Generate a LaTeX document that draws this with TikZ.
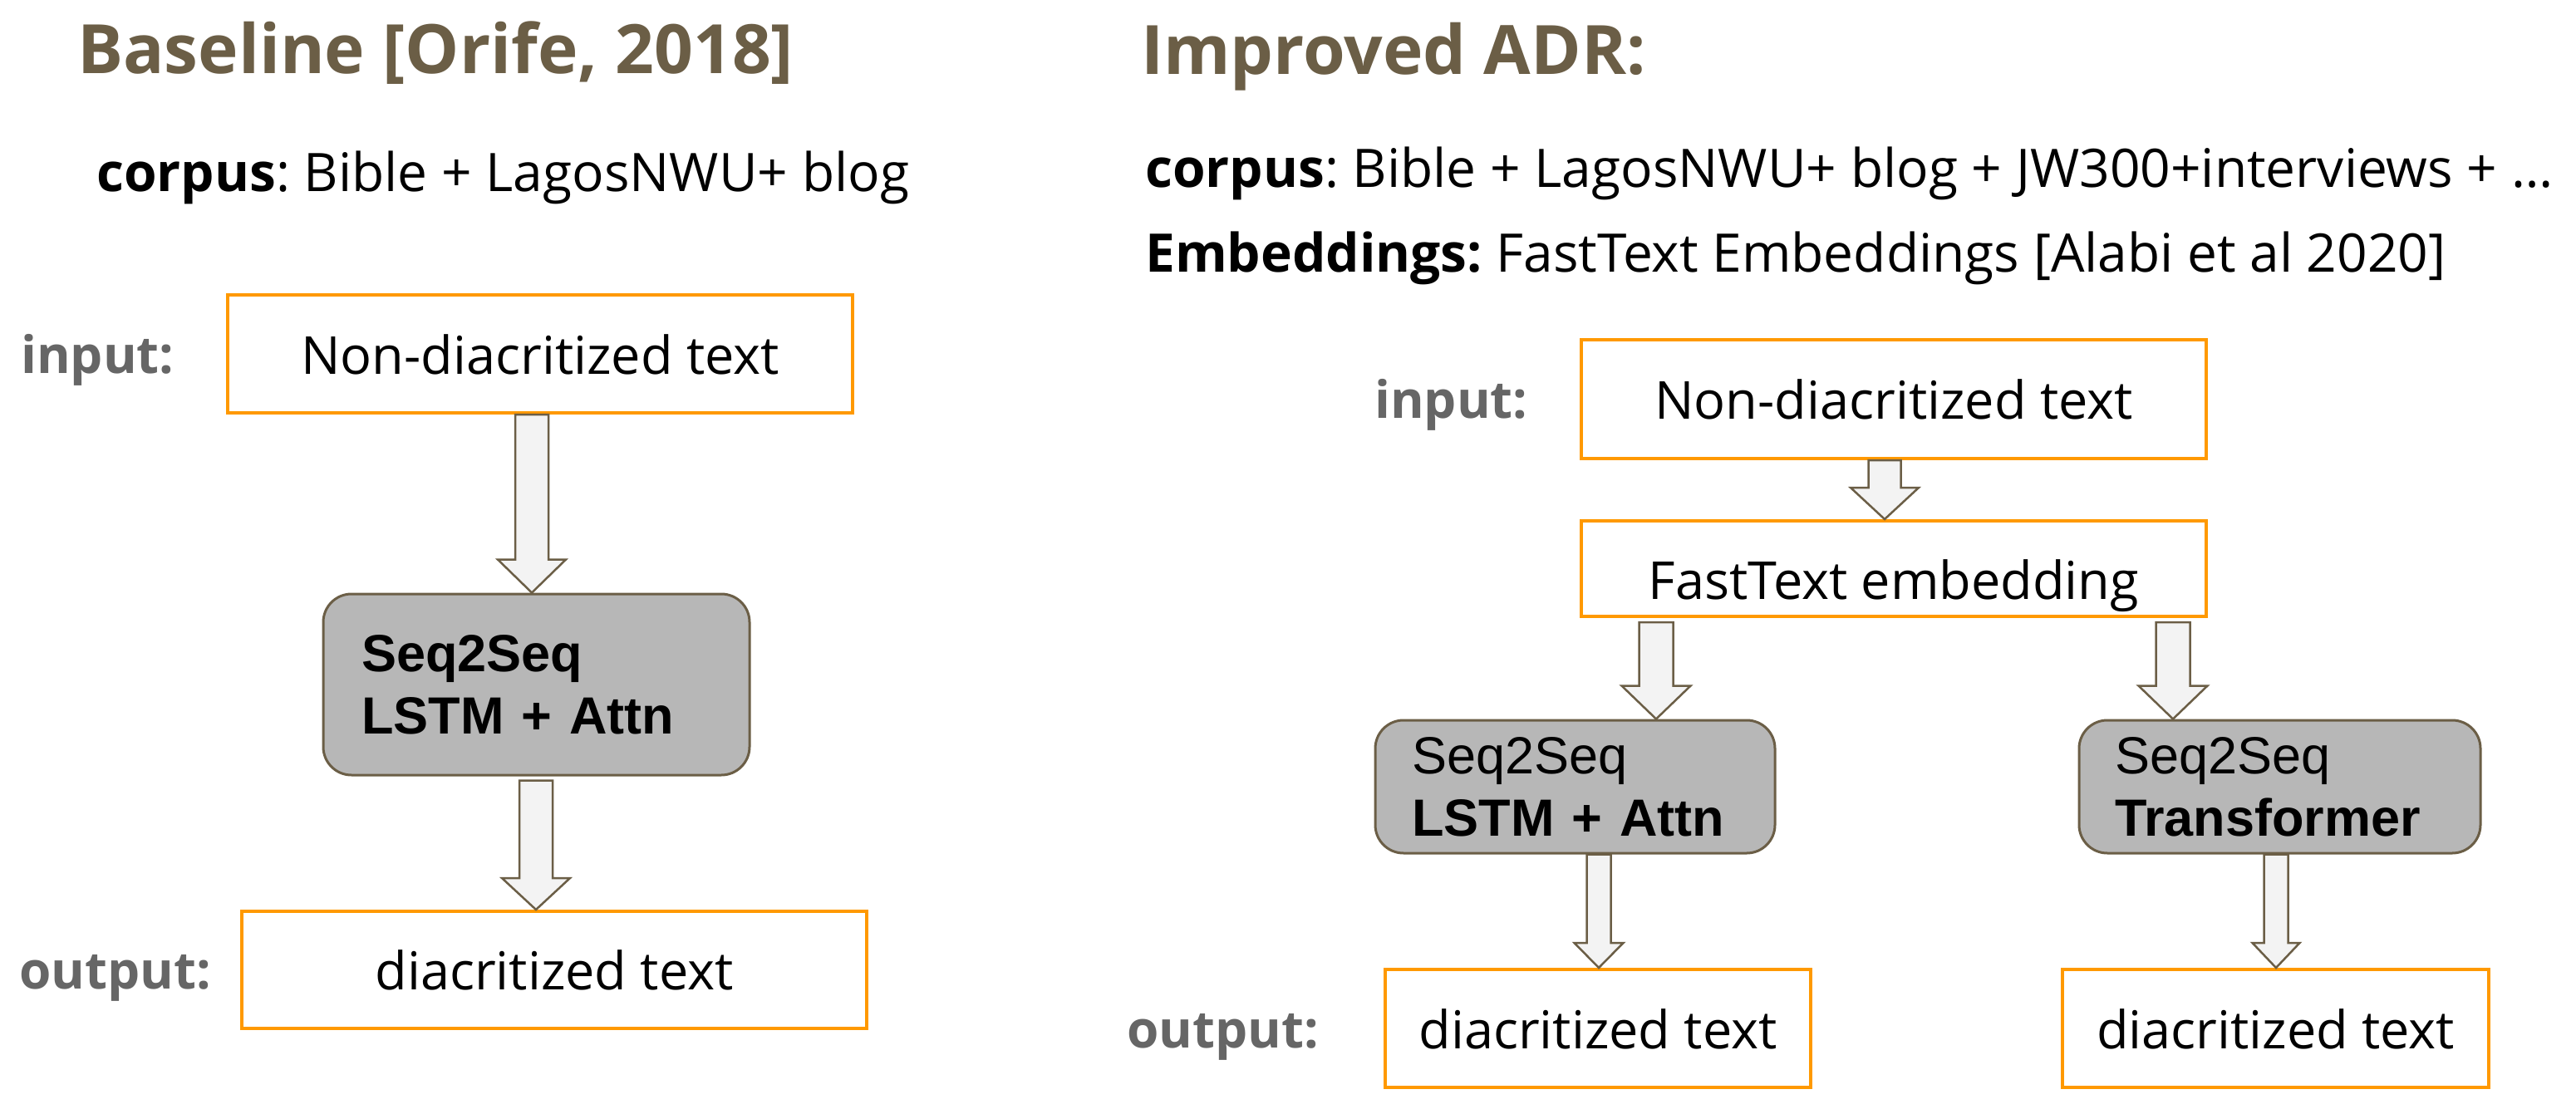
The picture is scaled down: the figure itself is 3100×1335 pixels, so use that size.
\documentclass[tikz,border=0pt]{standalone}
\usepackage{fontspec}
\setmainfont{Open Sans}
\newfontfamily\arialf{Liberation Sans}
\usetikzlibrary{calc}
\frenchspacing
\definecolor{titlec}{HTML}{6B5E46}
\definecolor{labc}{HTML}{666666}
\definecolor{orangec}{HTML}{FF9900}
\definecolor{seqfill}{HTML}{B7B7B7}
\definecolor{seqdraw}{HTML}{6B5E46}
\definecolor{arrfill}{HTML}{F3F3F3}
\tikzset{
 titletext/.style={anchor=base west, inner sep=0pt, text=titlec, font=\fontsize{82}{98}\selectfont\bfseries},
 infotext/.style={anchor=base west, inner sep=0pt, font=\fontsize{64}{77}\selectfont},
 labtext/.style={anchor=base west, inner sep=0pt, text=labc, font=\fontsize{62}{74}\selectfont\bfseries},
 iobox/.style={draw=orangec, line width=4pt, fill=white, inner sep=0pt, text height=48pt, text depth=0pt, font=\fontsize{63}{75}\selectfont},
 seqbox/.style={draw=seqdraw, line width=3pt, fill=seqfill, rounded corners=34pt, align=left, inner ysep=0pt, font=\arialf\fontsize{63}{75}\selectfont},
 barrow/.style={draw=seqdraw, line width=2.5pt, fill=arrfill, line join=miter},
}
\newcommand\blockarr[7]{%
 \coordinate (bx) at (#1,0);
 \draw[barrow] ($(bx |- #2.south)+(-#4,#7)$) -- ($(bx |- #2.south)+(#4,#7)$) -- ($(bx |- #3.north)+(#4,-#6)$) -- ($(bx |- #3.north)+(#5,-#6)$) -- (bx |- #3.north) -- ($(bx |- #3.north)+(-#5,-#6)$) -- ($(bx |- #3.north)+(-#4,-#6)$) -- cycle;
}
\begin{document}
\begin{tikzpicture}[x=1pt,y=-1pt]
\fill[white] (0,0) rectangle (3100,1335);
\useasboundingbox (0,0) rectangle (3100,1335);

% ---------- left panel ----------
\node[titletext] (titleL) at (93,89) {Baseline [Orife, 2018]};
\node[infotext] (corpusL) at (116,230) {\textbf{corpus}: Bible + LagosNWU+ blog};
\node[labtext] (inlabL) at (25,449) {input:};
\node[labtext] (outlabL) at (23,1190) {output:};

\node[iobox, minimum width=752pt, minimum height=142pt] (inL) at (650,426) {Non-diacritized text};
\node[seqbox, minimum width=513pt, minimum height=218pt, text width=421pt, inner xsep=46pt] (seqL) at (645.5,824) {\bfseries Seq2Seq\\LSTM + Attn};
\node[iobox, minimum width=752pt, minimum height=141pt] (outL) at (667,1167.5) {diacritized text};

\blockarr{640}{inL}{seqL}{20}{41}{40}{0}
\blockarr{645}{seqL}{outL}{20}{41}{38}{5}

% ---------- right panel ----------
\node[titletext] (titleR) at (1373,90) {Improved ADR:};
\node[infotext] (corpusR) at (1378,225) {\textbf{corpus}: Bible + LagosNWU+ blog + JW300+interviews + …};
\node[infotext] (embR) at (1378,327) {\textbf{Embeddings:} FastText Embeddings [Alabi et al 2020]};
\node[labtext] (inlabR) at (1654,503) {input:};
\node[labtext] (outlabR) at (1356,1261) {output:};

\node[iobox, minimum width=752pt, minimum height=143pt] (inR) at (2279,480.5) {Non-diacritized text};
\node[iobox, minimum width=752pt, minimum height=115pt] (ftR) at (2279,684.5) {\raisebox{-13pt}{FastText embedding}};
\node[seqbox, minimum width=481pt, minimum height=160pt, text width=393pt, inner xsep=44pt] (seqR1) at (1895.5,947) {Seq2Seq\\\textbf{LSTM + Attn}};
\node[seqbox, minimum width=483pt, minimum height=160pt, text width=397pt, inner xsep=43pt] (seqR2) at (2743.5,947) {Seq2Seq\\\textbf{Transformer}};
\node[iobox, minimum width=512pt, minimum height=142pt] (outR1) at (1923,1238) {diacritized text};
\node[iobox, minimum width=513pt, minimum height=142pt] (outR2) at (2738.5,1238) {diacritized text};

\blockarr{2268}{inR}{ftR}{19.5}{41}{38}{0}
\blockarr{1993}{ftR}{seqR1}{20.5}{41.5}{40}{5}
\blockarr{2615}{ftR}{seqR2}{20.5}{41.5}{40}{5}
\blockarr{1924}{seqR1}{outR1}{14.5}{29.5}{30}{0}
\blockarr{2739}{seqR2}{outR2}{14.5}{28.5}{30}{0}
\end{tikzpicture}
\end{document}
